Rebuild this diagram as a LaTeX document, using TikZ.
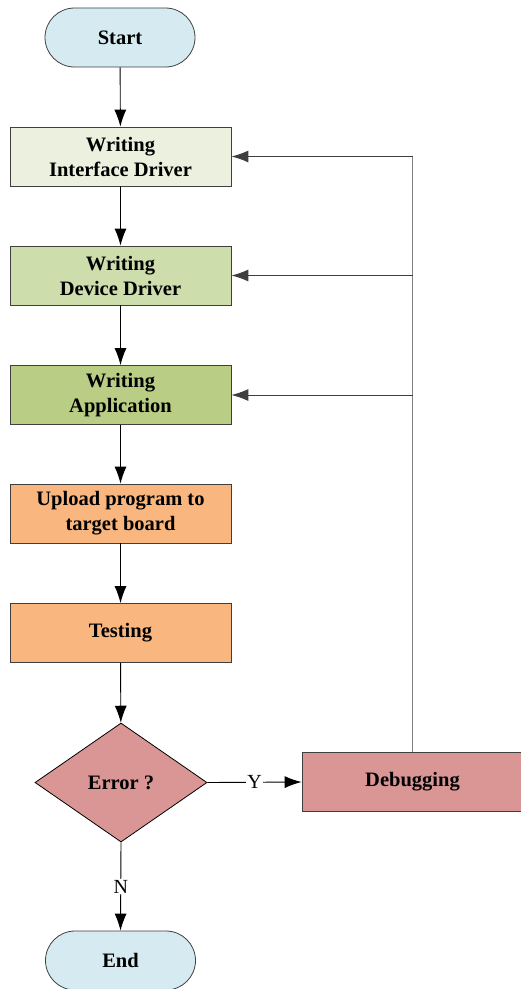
\documentclass[tikz,border=0pt]{standalone}
\usepackage{fontspec}
\setmainfont{Liberation Serif}
\usetikzlibrary{shapes.geometric, arrows.meta}
\definecolor{term-color}{HTML}{D5EBF1}
\definecolor{iface-color}{HTML}{EBF1DE}
\definecolor{device-color}{HTML}{CDDDAC}
\definecolor{appl-color}{HTML}{B9CD85}
\definecolor{upload-color}{HTML}{F9B77F}
\definecolor{error-color}{HTML}{D99694}
\definecolor{edge-color}{HTML}{3F3F3F}
\definecolor{loop-color}{HTML}{808080}
\tikzset{
    base/.style = {draw=edge-color, line width=0.8pt, align=center, inner sep=0pt,
        font=\fontsize{20.5}{25}\selectfont\bfseries},
    terminal/.style = {base, rectangle, rounded corners=29.5pt,
        minimum width=150pt, minimum height=59pt, fill=term-color},
    process/.style = {base, rectangle, minimum width=221pt, minimum height=59pt},
    decision/.style = {base, diamond, draw=black, minimum width=172pt,
        minimum height=119pt, fill=error-color},
    flow/.style = {line width=0.9pt, -{Latex[length=17pt,width=12pt]}},
    tag/.style = {fill=white, inner sep=1pt, font=\fontsize{20}{22}\selectfont}
}
\begin{document}
\begin{tikzpicture}[x=1pt,y=-1pt]
\useasboundingbox (0,0) rectangle (520,989);

\node[terminal] (start) at (120,37.5) {Start};
\node[process, fill=iface-color]  (iface)  at (120.5,156.5) {Writing\\Interface Driver};
\node[process, fill=device-color] (device) at (120.5,275.5) {Writing\\Device Driver};
\node[process, fill=appl-color]   (appl)   at (120.5,395)   {Writing\\Application};
\node[process, fill=upload-color] (upload) at (120.5,513.5) {Upload program to\\target board};
\node[process, fill=upload-color] (test)   at (120.5,633)   {Testing};
\node[decision] (error) at (121,782.5) {Error ?};
\node[process, fill=error-color]  (debug)  at (412.5,782)   {Debugging};
\node[terminal] (end) at (120.5,960.5) {End};

\draw[flow] (start) -- (iface);
\draw[flow] (iface) -- (device);
\draw[flow] (device) -- (appl);
\draw[flow] (appl) -- (upload);
\draw[flow] (upload) -- (test);
\draw[flow] (test) -- (error);
\draw[flow] (error.east) -- node[tag] {Y} (debug.west);
\draw[flow] (error.south) -- node[tag] {N} (end.north);

% feedback from debugging
\coordinate (j1) at (debug.north |- iface.east);
\coordinate (j2) at (debug.north |- device.east);
\coordinate (j3) at (debug.north |- appl.east);
\draw[loop-color, line width=0.9pt] (debug.north) -- (j1);
\draw[flow, edge-color] (j1) -- (iface.east);
\draw[flow, edge-color] (j2) -- (device.east);
\draw[flow, edge-color] (j3) -- (appl.east);
\end{tikzpicture}
\end{document}
